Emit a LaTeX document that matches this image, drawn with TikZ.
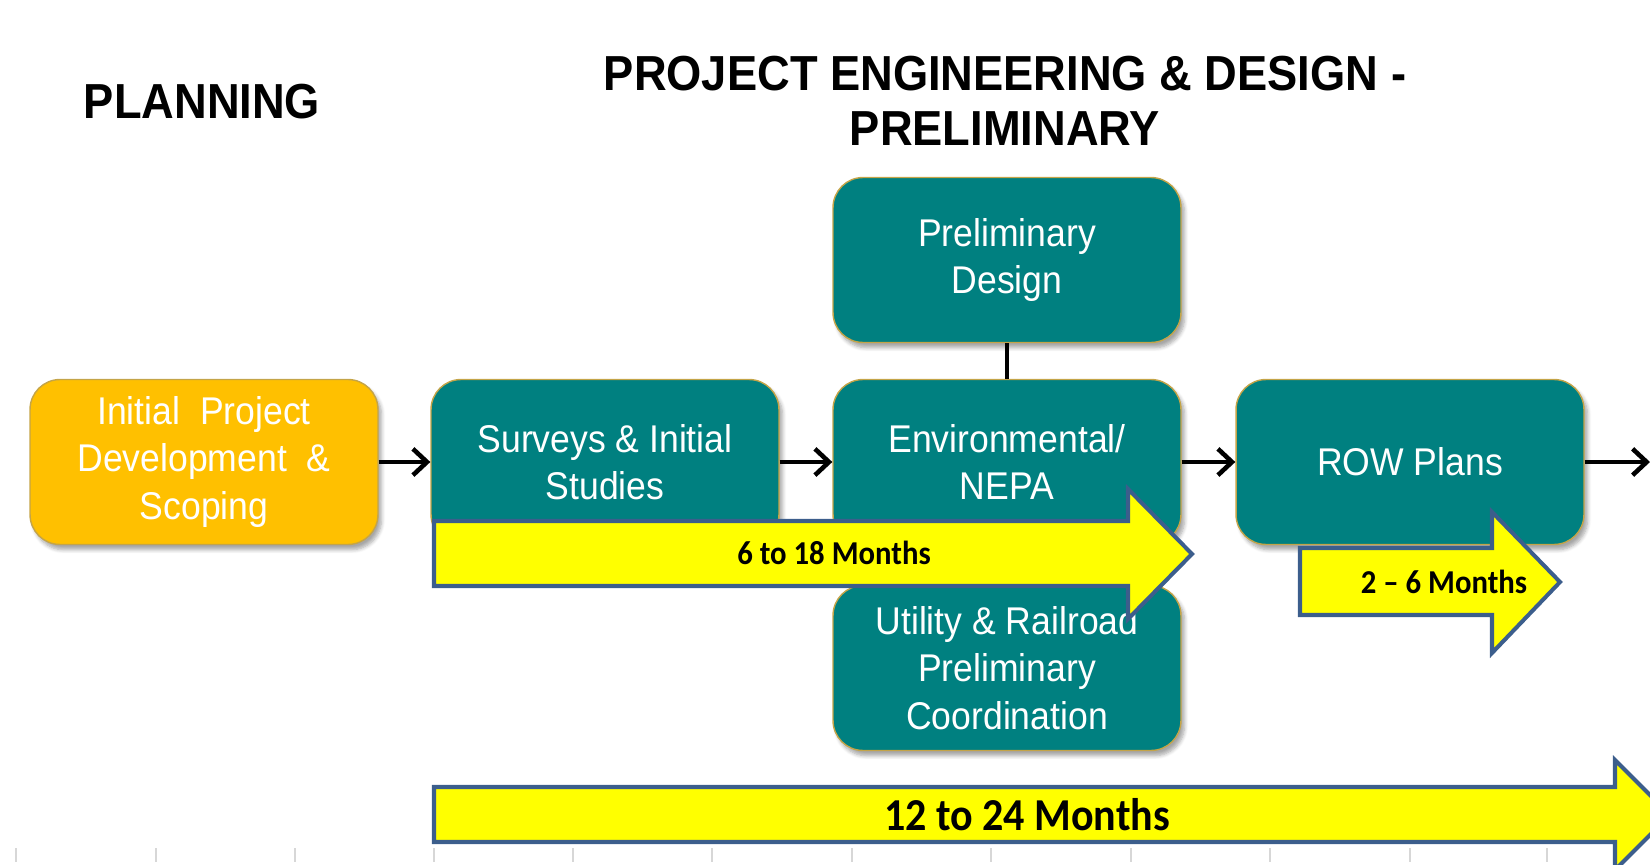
\documentclass[tikz,border=0pt]{standalone}
\usepackage{fontspec}
\setmainfont{Liberation Sans}[FakeStretch=0.92]
\newfontfamily\spanfont{Carlito}[FakeStretch=0.92]
\usetikzlibrary{arrows.meta,shadows.blur}
\definecolor{stageteal}{RGB}{0,128,128}
\definecolor{stageorange}{RGB}{255,192,0}
\definecolor{stageedge}{RGB}{196,164,72}
\definecolor{spanyellow}{RGB}{255,255,0}
\definecolor{spanedge}{RGB}{60,94,140}
\definecolor{tickgray}{RGB}{215,215,215}
\tikzset{
  stage/.style={draw=stageedge, line width=0.8pt, fill=stageteal, text=white,
    rounded corners=0.6cm, minimum width=6.96cm, minimum height=3.3cm, align=center,
    font=\fontsize{22}{27}\selectfont,
    blur shadow={shadow xshift=2pt, shadow yshift=-3pt, shadow blur steps=6, shadow opacity=35}},
  flow/.style={line width=2.6pt, -{Straight Barb[length=8pt,width=15pt]}},
  span/.style={draw=spanedge, line width=2.3pt, fill=spanyellow, line join=miter},
  spanlabel/.style={font=\spanfont\bfseries\fontsize{19}{22}\selectfont},
  biglabel/.style={font=\spanfont\bfseries\fontsize{26}{30}\selectfont},
  heading/.style={font=\bfseries\fontsize{28}{31}\selectfont, align=center}
}
\begin{document}
\begin{tikzpicture}[x=0.02cm, y=-0.02cm]
\useasboundingbox (0,0) rectangle (1650,865);
\clip (0,0) rectangle (1650,865);
\foreach \tx in {16,156,295,434,573,712,852,991,1131,1270,1410,1547}
  \draw[tickgray, line width=1pt] (\tx,848) -- (\tx,862);

\node[heading] (plan) at (202,102) {PLANNING};
\node[heading] (ped) at (1005,101) {PROJECT ENGINEERING \& DESIGN -\\PRELIMINARY};

\node[stage, fill=stageorange] (init) at (204,462) {Initial\ \ Project\\Development\ \ \&\\Scoping};
\node[stage] (surv) at (605,462) {Surveys \& Initial\\Studies};
\node[stage] (env) at (1007,462) {Environmental/\\NEPA};
\node[stage] (prel) at (1007,260) {Preliminary\\Design};
\node[stage] (util) at (1007,668) {Utility \& Railroad\\Preliminary\\Coordination};
\node[stage] (row) at (1410,462) {ROW Plans};
\coordinate (next) at (1650,462);

\draw[flow] (init) -- (surv);
\draw[flow] (surv) -- (env);
\draw[flow] (env) -- (row);
\draw[flow] (row) -- (next);
\draw[line width=2.6pt] (prel) -- (env);

\draw[span] (434,521) -- (1128,521) -- (1128,489) -- (1192,554) -- (1128,619) -- (1128,586) -- (434,586) -- cycle;
\node[spanlabel] (sixto) at (834,553) {6 to 18 Months};
\draw[span] (1300,548) -- (1492,548) -- (1492,512) -- (1560,582) -- (1492,653) -- (1492,615) -- (1300,615) -- cycle;
\node[spanlabel] (twoto) at (1444,582) {2 – 6 Months};
\draw[span] (434,787) -- (1615,787) -- (1615,760) -- (1670,815) -- (1615,870) -- (1615,842) -- (434,842) -- cycle;
\node[biglabel] (twelveto) at (1027,815) {12 to 24 Months};
\end{tikzpicture}
\end{document}
